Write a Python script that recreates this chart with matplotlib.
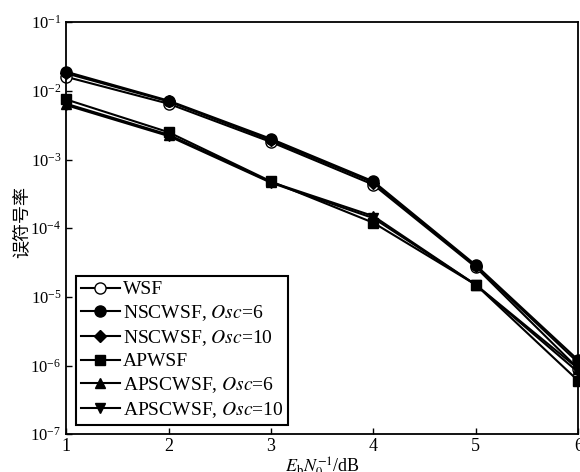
import numpy as np
import matplotlib.pyplot as plt
from matplotlib.ticker import LogLocator, NullLocator

# =====================================================
# Datos
# =====================================================

snr = [1, 2, 3, 4, 5, 6]

wsf = [1.6e-2, 6.5e-3, 1.8e-3, 4.3e-4, 2.7e-5, 9.0e-7]
nscwsf_6 = [1.9e-2, 7.2e-3, 2.0e-3, 4.8e-4, 2.9e-5, 1.2e-6]
nscwsf_10 = [1.8e-2, 7.0e-3, 1.9e-3, 4.6e-4, 2.8e-5, 1.1e-6]
apwsf = [7.5e-3, 2.5e-3, 4.8e-4, 1.2e-4, 1.5e-5, 6.0e-7]
apscwsf_6 = [6.5e-3, 2.3e-3, 4.7e-4, 1.5e-4, 1.5e-5, 9.0e-7]
apscwsf_10 = [6.2e-3, 2.2e-3, 4.6e-4, 1.4e-4, 1.5e-5, 8.0e-7]

labels = [
    "WSF",
    "NSCWSF, $Osc$=6",
    "NSCWSF, $Osc$=10",
    "APWSF",
    "APSCWSF, $Osc$=6",
    "APSCWSF, $Osc$=10",
]

# =====================================================
# Estilo
# =====================================================

plt.rcParams['font.family'] = ['Liberation Serif', 'Noto Sans CJK SC']
plt.rcParams['mathtext.fontset'] = 'stix'

series = [wsf, nscwsf_6, nscwsf_10, apwsf, apscwsf_6, apscwsf_10]
markers = ['o', 'o', 'D', 's', '^', 'v']
faces = ['white', 'black', 'black', 'black', 'black', 'black']
sizes = [8, 8, 6, 7, 7, 7]

# =====================================================
# Graficar
# =====================================================

fig = plt.figure(figsize=(5.8, 4.72), dpi=100)
ax = fig.add_axes([0.114, 0.080, 0.883, 0.873])

for y, m, fc, ms, lab in zip(series, markers, faces, sizes, labels):
    ax.plot(
        snr,
        y,
        color='black',
        marker=m,
        markerfacecolor=fc,
        markeredgecolor='black',
        markersize=ms,
        linewidth=1.5,
        label=lab,
        clip_on=False
    )

ax.set_yscale('log')
ax.set_xlim(1, 6)
ax.set_ylim(1e-7, 1e-1)
ax.set_xticks(snr)
ax.yaxis.set_major_locator(LogLocator(base=10, numticks=10))
ax.yaxis.set_minor_locator(NullLocator())

ax.tick_params(direction='in', labelsize=12, length=4, width=1)
ax.tick_params(axis='x', labelsize=13, pad=3)
for s in ax.spines.values():
    s.set_linewidth(1.3)

ax.set_xlabel("$E_{\\mathrm{b}}N_0^{-1}$/dB", fontsize=13, labelpad=0)
ax.set_ylabel("误符号率", fontsize=13,
              family=['Noto Sans CJK SC', 'DejaVu Sans'])
ax.yaxis.set_label_coords(-0.068, 0.515)

leg = ax.legend(
    loc='lower left',
    fontsize=14,
    frameon=True,
    fancybox=False,
    edgecolor='black',
    framealpha=1,
    handlelength=2.0,
    handletextpad=0.15,
    labelspacing=0.25,
    borderpad=0.25,
    borderaxespad=0.5
)
leg.get_frame().set_linewidth(1.5)

fig.savefig("out.png", dpi=100)
